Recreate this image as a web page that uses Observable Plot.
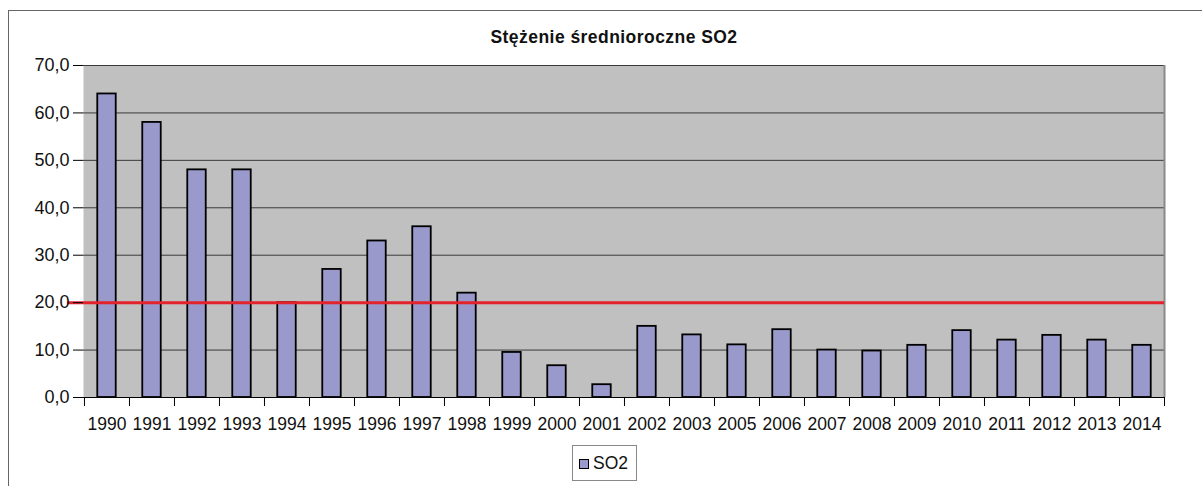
<!DOCTYPE html>
<html>
<head>
<meta charset="utf-8">
<script src="https://cdn.jsdelivr.net/npm/d3@7"></script>
<script src="https://cdn.jsdelivr.net/npm/@observablehq/plot@0.6"></script>
<style>
  html, body { margin: 0; padding: 0; background: #fff; }
  body { width: 1202px; height: 486px; position: relative; overflow: hidden; font-family: "Liberation Sans", Arial, sans-serif; }
  #frame { position: absolute; left: 8px; top: 10px; width: 1300px; height: 600px; border-left: 1.5px solid #666; border-top: 1.5px solid #666; box-sizing: border-box; pointer-events: none; }
  #title { position: absolute; left: 0; width: 1228px; top: 27px; text-align: center; font-weight: bold; font-size: 17.5px; letter-spacing: 0.45px; color: #111; }
  #legend { position: absolute; left: 572px; top: 445px; width: 65px; height: 36px; border: 1px solid #888; box-sizing: border-box; font-size: 17.5px; color: #111; }
  #legend .sw { position: absolute; left: 6px; top: 13px; width: 10px; height: 10px; border: 1.5px solid #000; box-sizing: border-box; background: #9999cc; }
  #legend .lb { position: absolute; left: 20px; top: 7px; }
  #chart { position: absolute; left: 0; top: 0; }
</style>
</head>
<body>
<div id="chart"></div>
<div id="frame"></div>
<div id="title">Stężenie średnioroczne SO2</div>
<div id="legend"><div class="sw"></div><div class="lb">SO2</div></div>
<script>
const years = ["1990","1991","1992","1993","1994","1995","1996","1997","1998","1999","2000","2001","2002","2003","2005","2006","2007","2008","2009","2010","2011","2012","2013","2014"];
const so2 = [64.0,58.0,48.0,48.0,20.0,27.0,33.0,36.0,22.0,9.5,6.7,2.7,15.0,13.2,11.1,14.3,10.0,9.8,11.0,14.1,12.1,13.1,12.1,11.0];
const yTicks = [0,10,20,30,40,50,60,70];
const limitValue = [20];

const data = years.map((y, i) => ({year: y, value: so2[i]}));

const W = 1202, H = 486;
const mL = 83, mR = 38, mT = 65, mB = 89;
const plotH = H - mT - mB;
const bw = (W - mL - mR) / years.length;
const barW = 18.5;
const inset = (bw - barW) / 2;

const chart = Plot.plot({
  width: W,
  height: H,
  marginLeft: mL,
  marginRight: mR,
  marginTop: mT,
  marginBottom: mB,
  style: { fontFamily: "'Liberation Sans', Arial, sans-serif", background: "transparent", overflow: "visible" },
  x: { type: "band", domain: years, padding: 0, label: null },
  y: { domain: [0, 70], label: null },
  marks: [
    Plot.frame({ fill: "#c0c0c0", stroke: null }),
    Plot.gridY(yTicks.filter(d => d > 0), { stroke: "#3a3a3a", strokeOpacity: 1, strokeWidth: 1 }),
    Plot.ruleX([years[years.length - 1]], { x: d => d, dx: bw / 2, stroke: "#8a8a8a", strokeWidth: 2 }),
    Plot.barY(data, { x: "year", y: "value", fill: "#9999cc", stroke: "#000", strokeWidth: 1.8, insetLeft: inset, insetRight: inset }),
    Plot.ruleY(limitValue, { stroke: "#e3232b", strokeWidth: 3, insetLeft: -16 }),
    Plot.ruleY([0], { stroke: "#000", strokeWidth: 1.2, insetLeft: -10 }),
    Plot.ruleX(years, { x: d => d, dx: -bw / 2, stroke: "#000", strokeWidth: 1, insetTop: plotH, insetBottom: -9 }),
    Plot.ruleX([years[years.length - 1]], { x: d => d, dx: bw / 2, stroke: "#000", strokeWidth: 1, insetTop: plotH, insetBottom: -9 }),
    Plot.axisY({ ticks: yTicks, tickSize: 10, tickPadding: 4, tickFormat: d => d.toFixed(1).replace(".", ","), fontSize: 18, stroke: "#000", color: "#111" }),
    Plot.axisX({ tickSize: 0, tickPadding: 20, fontSize: 17.5, color: "#111" })
  ]
});
document.getElementById("chart").appendChild(chart);
</script>
</body>
</html>
